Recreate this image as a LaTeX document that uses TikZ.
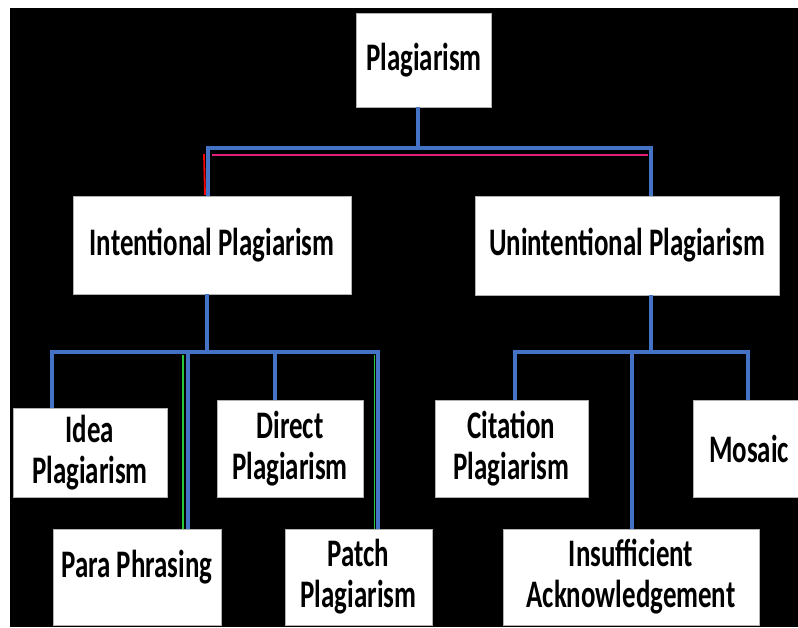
\documentclass[tikz,border=0pt]{standalone}
\usepackage{fontspec}
\setmainfont[FakeStretch=0.69]{Carlito}

\begin{document}
\begin{tikzpicture}[x=1pt, y=-1pt,
    every node/.style={outer sep=0pt, inner sep=0pt},
    box/.style={fill=white, draw=gray!60, line width=0.8pt, align=center,
        font=\fontsize{39}{41}\selectfont\bfseries},
    conn/.style={draw=linkblue, line width=4.5pt},
    ghost/.style={line width=1.8pt}]
    \definecolor{linkblue}{RGB}{68,114,196}
    \definecolor{pinkline}{RGB}{226,30,122}
    \definecolor{greenline}{RGB}{40,200,60}
    \path[use as bounding box, clip] (0,0) rectangle (798,627);
    % background
    \fill[white] (0,0) rectangle (798,627);
    \fill[black] (10,8) rectangle (798,627);
    % top level
    \node[box, minimum width=135, minimum height=94] (plag) at (424,60) {Plagiarism};
    % second level
    \node[box, minimum width=278, minimum height=98] (intent) at (212,245) {Intentional Plagiarism};
    \node[box, minimum width=304, minimum height=99] (unint) at (627,245.5) {Unintentional Plagiarism};
    % third level, intentional side
    \node[box, minimum width=154, minimum height=89] (idea) at (90,452.5) {Idea\\Plagiarism};
    \node[box, minimum width=146, minimum height=97] (direct) at (290,448.5) {Direct\\Plagiarism};
    \node[box, minimum width=168, minimum height=96, text depth=26pt] (para) at (137,577) {Para Phrasing};
    \node[box, minimum width=147, minimum height=96] (patch) at (358.5,577) {Patch\\Plagiarism};
    % third level, unintentional side
    \node[box, minimum width=153, minimum height=97] (citation) at (511.5,448.5) {Citation\\Plagiarism};
    \node[box, minimum width=112, minimum height=97] (mosaic) at (749,448.5) {Mosaic};
    \node[box, minimum width=256, minimum height=96] (insuff) at (631,577) {Insufficient\\Acknowledgement};
    % junctions
    \coordinate (t0) at (418,148);
    \coordinate (t1) at (207,352);
    \coordinate (t2) at (651,352);
    % coloured edges along the connectors
    \draw[ghost, pinkline] ([xshift=-206pt, yshift=-7pt]t0) -- ([xshift=230pt, yshift=-7pt]t0);
    \draw[ghost, red] ([xshift=-214pt, yshift=-6pt]t0) -- ([xshift=-7pt, yshift=1pt]intent.north);
    \draw[ghost, greenline] ([xshift=46pt, yshift=-3pt]para.north |- t1) -- ([xshift=46pt]para.north);
    \draw[ghost, greenline] ([xshift=16pt, yshift=-3pt]patch.north |- t1) -- ([xshift=16pt]patch.north);
    % connectors
    \draw[conn] ([xshift=-6pt]plag.south) -- (t0);
    \draw[conn] (t0) -| ([xshift=-4pt]intent.north);
    \draw[conn] (t0) -| ([xshift=24pt]unint.north);
    \draw[conn] ([xshift=-5pt]intent.south) -- (t1);
    \draw[conn] (t1) -| ([xshift=-38pt]idea.north);
    \draw[conn] (t1) -| ([xshift=51pt]para.north);
    \draw[conn] (t1) -| ([xshift=-15pt]direct.north);
    \draw[conn] (t1) -| ([xshift=19.5pt]patch.north);
    \draw[conn] ([xshift=24pt]unint.south) -- (t2);
    \draw[conn] (t2) -| ([xshift=3.5pt]citation.north);
    \draw[conn] (t2) -| ([xshift=1pt]insuff.north);
    \draw[conn] (t2) -| ([xshift=-1pt]mosaic.north);
\end{tikzpicture}
\end{document}
